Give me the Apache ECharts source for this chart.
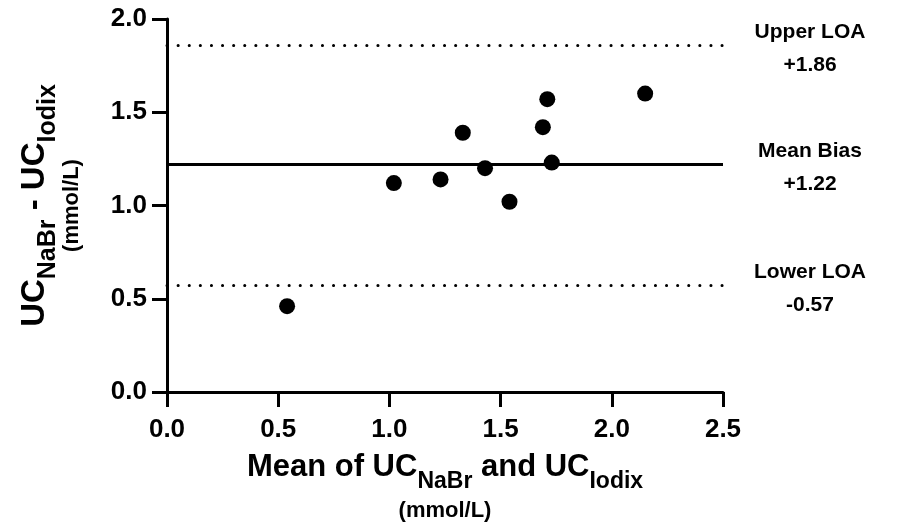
<!DOCTYPE html>
<html>
<head>
<meta charset="utf-8">
<script src="https://cdn.jsdelivr.net/npm/echarts@6/dist/echarts.min.js"></script>
<style>
  html, body { margin: 0; padding: 0; background: #ffffff; }
  #chart { width: 909px; height: 522px; }
</style>
</head>
<body>
<div id="chart"></div>
<script>
// Bland–Altman data: mean of the two methods vs. their difference (mmol/L)
const meanValues = [0.54, 1.02, 1.23, 1.33, 1.43, 1.54, 1.69, 1.71, 1.73, 2.15];
const diffValues = [0.46, 1.12, 1.14, 1.39, 1.20, 1.02, 1.42, 1.57, 1.23, 1.60];

// Reference lines: upper limit of agreement, mean bias, lower limit of agreement
const refNames  = ['Upper LOA', 'Mean Bias', 'Lower LOA'];
const refValues = [1.86, 1.22, 0.57];
const refLabels = ['+1.86', '+1.22', '-0.57'];

// Axis ranges and tick spacing
const xRange = [0, 2.5];
const yRange = [0, 2.0];
const tickStep = 0.5;

const FONT = "'Liberation Sans', Arial, Helvetica, sans-serif";
const INK = '#000000';

// Rich styles for axis titles; main and subscript tokens share one box height
// so the subscript sits lower purely through its top padding.
function titleRich(main, sub, drop, unitLH) {
  const boxH = sub + drop;
  return {
    m: { fontFamily: FONT, fontWeight: 'bold', fontSize: main, lineHeight: main, color: INK,
         padding: [0, 0, boxH - main, 0] },
    s: { fontFamily: FONT, fontWeight: 'bold', fontSize: sub, lineHeight: sub, color: INK,
         padding: [drop, 0, 0, 0] },
    u: { fontFamily: FONT, fontWeight: 'bold', fontSize: 22, lineHeight: unitLH, color: INK }
  };
}

const axisCommon = {
  type: 'value',
  interval: tickStep,
  splitLine: { show: false },
  axisLine: { show: true, onZero: false, lineStyle: { color: INK, width: 3 } },
  axisTick: { show: true, inside: false, length: 15, lineStyle: { color: INK, width: 3 } },
  nameLocation: 'middle'
};

const tickLabel = {
  color: INK, fontFamily: FONT, fontWeight: 'bold', fontSize: 26,
  formatter: v => v.toFixed(1)
};

const chart = echarts.init(document.getElementById('chart'), null, { renderer: 'canvas' });

chart.setOption({
  animation: false,
  backgroundColor: '#ffffff',
  grid: { left: 167, right: 186, top: 19, bottom: 130, containLabel: false, outerBoundsMode: 'none' },
  xAxis: Object.assign({}, axisCommon, {
    min: xRange[0], max: xRange[1],
    name: '{m|Mean of UC}{s|NaBr}{m| and UC}{s|Iodix}\n{u|(mmol/L)}',
    nameGap: 65,
    nameTextStyle: { rich: titleRich(31, 23, 18, 46) },
    axisLabel: Object.assign({ margin: 25 }, tickLabel)
  }),
  yAxis: Object.assign({}, axisCommon, {
    min: yRange[0], max: yRange[1],
    name: '{m|UC}{s|NaBr}{m| - UC}{s|Iodix}\n{u|(mmol/L)}',
    nameRotate: 90,
    nameGap: 79,
    nameTextStyle: { rich: titleRich(33, 25, 18, 32) },
    axisLabel: Object.assign({ margin: 20 }, tickLabel)
  }),
  series: [{
    type: 'scatter',
    data: meanValues.map((x, i) => [x, diffValues[i]]),
    symbol: 'circle',
    symbolSize: 16,
    itemStyle: { color: INK, opacity: 1 },
    markLine: {
      silent: true,
      symbol: 'none',
      animation: false,
      label: { show: false },
      data: refValues.map((v, i) => ({
        yAxis: v,
        lineStyle: i === 1
          ? { color: INK, width: 3, type: 'solid' }
          : { color: INK, width: 3, type: [0.1, 11], cap: 'round' }
      }))
    }
  }]
});

// Two-line captions to the right of each reference line, anchored on the
// line's position on the y scale.
const captionX = 810;
const captionStyle = { fontFamily: FONT, fontWeight: 'bold', fontSize: 21, fill: INK,
                       textAlign: 'center', textVerticalAlign: 'middle' };
const captions = [];
refValues.forEach((v, i) => {
  const py = chart.convertToPixel({ yAxisIndex: 0 }, v);
  captions.push({ type: 'text', x: captionX, y: py - 13, silent: true,
                  style: Object.assign({ text: refNames[i] }, captionStyle) });
  captions.push({ type: 'text', x: captionX, y: py + 20, silent: true,
                  style: Object.assign({ text: refLabels[i] }, captionStyle) });
});
chart.setOption({ graphic: captions });
</script>
</body>
</html>
